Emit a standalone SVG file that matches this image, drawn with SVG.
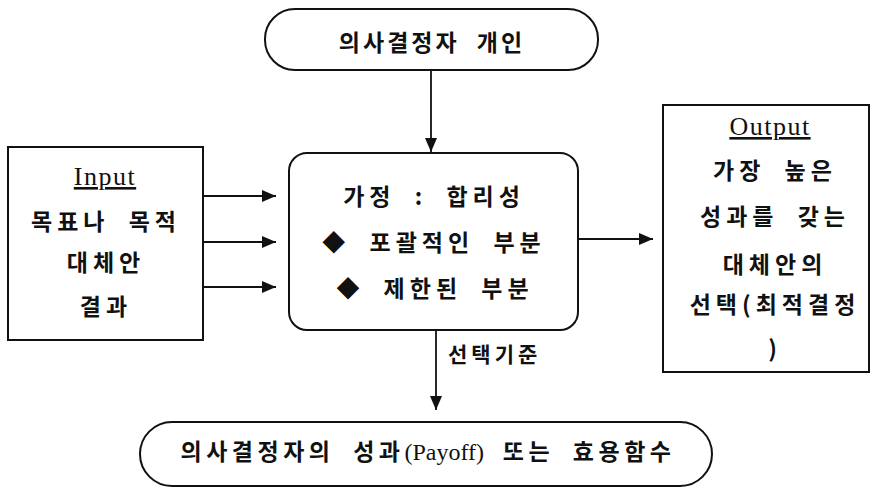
<svg xmlns="http://www.w3.org/2000/svg" width="872" height="488" viewBox="0 0 872 488">
<style>
.box{fill:#fff;stroke:#111;stroke-width:2}
.ln{stroke:#111;stroke-width:1.8;fill:none}
.kt{font-family:"Noto Sans CJK KR","Noto Sans",sans-serif;font-weight:bold;font-size:23px;letter-spacing:5px;word-spacing:9px;fill:#111;text-anchor:middle}
.lt{font-family:"Liberation Serif",serif;font-size:26px;letter-spacing:1.5px;fill:#111;text-anchor:middle;text-decoration:underline}
.sv{font-family:"Liberation Serif",serif;font-weight:normal;font-size:24px;letter-spacing:0}
</style>
<defs>
<marker id="ah" viewBox="0 0 14 12" refX="14" refY="6" markerWidth="14" markerHeight="12" markerUnits="userSpaceOnUse" orient="auto">
<path d="M0,0 L14,6 L0,12 Z" fill="#111"/>
</marker>
</defs>
<g id="connectors">
<line class="ln" x1="431" y1="70" x2="431" y2="152" marker-end="url(#ah)"/>
<line class="ln" x1="203" y1="196" x2="276" y2="196" marker-end="url(#ah)"/>
<line class="ln" x1="203" y1="242" x2="276" y2="242" marker-end="url(#ah)"/>
<line class="ln" x1="203" y1="287" x2="276" y2="287" marker-end="url(#ah)"/>
<line class="ln" x1="578" y1="239" x2="653" y2="239" marker-end="url(#ah)"/>
<line class="ln" x1="436" y1="330" x2="436" y2="410" marker-end="url(#ah)"/>
<text class="kt" x="448" y="362" style="text-anchor:start;font-size:21px;letter-spacing:4px">선택기준</text>
</g>
<g id="decision-maker">
<rect class="box" x="265" y="9" width="333" height="61" rx="30"/>
<text class="kt" x="432" y="51" style="letter-spacing:3px">의사결정자 개인</text>
</g>
<g id="input">
<rect class="box" x="8" y="147" width="195" height="193"/>
<text class="lt" x="105" y="185">Input</text>
<text class="kt" x="106" y="230">목표나 목적</text>
<text class="kt" x="106" y="271">대체안</text>
<text class="kt" x="106" y="315">결과</text>
</g>
<g id="process">
<rect class="box" x="289" y="153" width="289" height="177" rx="18"/>
<text class="kt" x="434" y="205">가정 : 합리성</text>
<text class="kt" x="434" y="251">◆ 포괄적인 부분</text>
<text class="kt" x="435" y="297">◆ 제한된 부분</text>
</g>
<g id="output">
<rect class="box" x="663" y="105" width="206" height="267"/>
<text class="lt" x="770" y="135">Output</text>
<text class="kt" x="775" y="179">가장 높은</text>
<text class="kt" x="775" y="225">성과를 갖는</text>
<text class="kt" x="775" y="273">대체안의</text>
<text class="kt" x="775" y="313">선택(최적결정</text>
<text class="kt" x="775" y="357">)</text>
</g>
<g id="payoff">
<rect class="box" x="140" y="422" width="572" height="64" rx="32"/>
<text class="kt" x="428" y="460" style="letter-spacing:4.5px">의사결정자의 성과<tspan class="sv">(Payoff)</tspan> 또는 효용함수</text>
</g>
</svg>
